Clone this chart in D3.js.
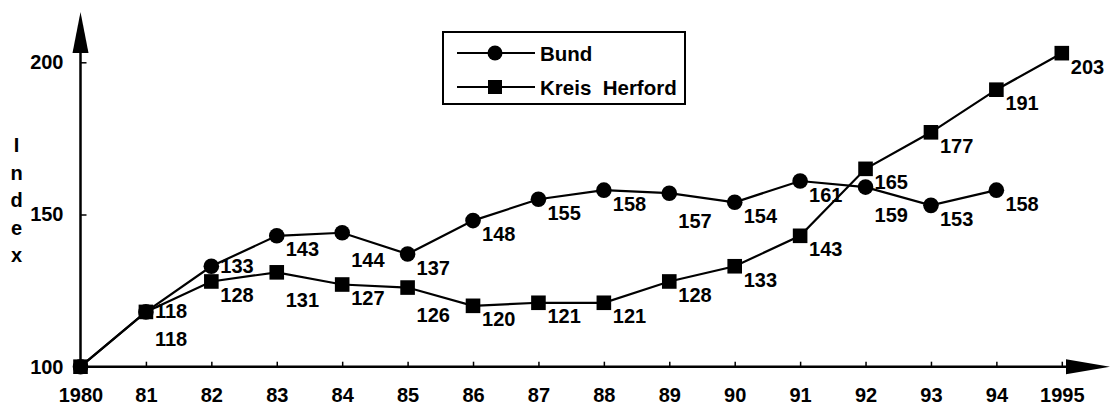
<!DOCTYPE html>
<html>
<head>
<meta charset="utf-8">
<script src="https://cdn.jsdelivr.net/npm/d3@7"></script>
<style>
  html, body { margin: 0; padding: 0; background: #fff; }
  svg text { font-family: 'Liberation Sans', Arial, sans-serif; font-weight: bold; font-size: 20px; fill: #000; }
</style>
</head>
<body>
<div id="chart"></div>
<script>
// Data
const years = [1980, 1981, 1982, 1983, 1984, 1985, 1986, 1987, 1988, 1989, 1990, 1991, 1992, 1993, 1994, 1995]
const bund = [100, 118, 133, 143, 144, 137, 148, 155, 158, 157, 154, 161, 159, 153, 158, null]
const herford = [100, 118, 128, 131, 127, 126, 120, 121, 121, 128, 133, 143, 165, 177, 191, 203]
const yTicks = [100, 150, 200]
// label row under the marker: 0 = just below, 1 = one line lower, -1 = beside
const bundLabelRow = [null, 1, -1, 0, 1, 0, 0, 0, 0, 1, 0, 0, 1, 0, 0, null]
const herfordLabelRow = [null, -1, 0, 1, 0, 1, 0, 0, 0, 0, 0, 0, 0, 0, 0, 0]

const width = 1110
const height = 405

const svg = d3.select('#chart').append('svg')
  .attr('width', width)
  .attr('height', height)

// Scales
const x = d3.scaleLinear().domain([1980, 1995]).range([80.5, 1061.8])
const y = d3.scaleLinear().domain([100, 200]).range([366.7, 62.3])

// X axis
const xAxis = d3.axisBottom(x)
  .tickValues(years)
  .tickSizeInner(-5)
  .tickSizeOuter(0)
  .tickPadding(21.5)
  .tickFormat(d => (d === 1980 || d === 1995) ? String(d) : String(d).slice(2))
const gx = svg.append('g')
  .attr('transform', `translate(0,${y(100)})`)
  .call(xAxis)
gx.select('.domain').remove()
gx.selectAll('.tick line').attr('stroke', '#000').attr('stroke-width', 1.5)
gx.attr('font-size', null).attr('font-family', null)

// Y axis
const yAxis = d3.axisLeft(y)
  .tickValues(yTicks)
  .tickSizeInner(-6)
  .tickSizeOuter(0)
  .tickPadding(17)
const gy = svg.append('g')
  .attr('transform', `translate(${x(1980)},0)`)
  .call(yAxis)
gy.select('.domain').remove()
gy.selectAll('.tick line').attr('stroke', '#000').attr('stroke-width', 1.5)
gy.attr('font-size', null).attr('font-family', null)

// Axis lines with arrows
svg.append('line')
  .attr('x1', x(1980)).attr('x2', 1068)
  .attr('y1', y(100)).attr('y2', y(100))
  .attr('stroke', '#000').attr('stroke-width', 2.5)
svg.append('path')
  .attr('d', `M1066,${y(100) - 7.5}L1110,${y(100)}L1066,${y(100) + 7.5}Z`)
  .attr('fill', '#000')
svg.append('line')
  .attr('x1', x(1980)).attr('x2', x(1980))
  .attr('y1', y(100)).attr('y2', 50)
  .attr('stroke', '#000').attr('stroke-width', 2.5)
svg.append('path')
  .attr('d', `M${x(1980) - 8},53L${x(1980)},12L${x(1980) + 8},53Z`)
  .attr('fill', '#000')

// Vertical axis title, one letter per line
svg.selectAll('text.ylab')
  .data(['I', 'n', 'd', 'e', 'x'])
  .enter().append('text')
  .attr('class', 'ylab')
  .attr('text-anchor', 'middle')
  .attr('x', 16.5)
  .attr('y', (d, i) => 152 + i * 27.5)
  .text(d => d)

// Series
const series = [
  { name: 'Bund', values: bund, rows: bundLabelRow, marker: 'circle' },
  { name: 'Kreis  Herford', values: herford, rows: herfordLabelRow, marker: 'square' }
]

const line = d3.line()
  .defined(d => d.v !== null)
  .x(d => x(d.year))
  .y(d => y(d.v))

series.forEach(s => {
  const pts = years.map((year, i) => ({ year, v: s.values[i], row: s.rows[i] }))
  svg.append('path')
    .datum(pts)
    .attr('d', line)
    .attr('fill', 'none')
    .attr('stroke', '#000')
    .attr('stroke-width', 2.2)
})

series.forEach(s => {
  const pts = years.map((year, i) => ({ year, v: s.values[i], row: s.rows[i] }))
    .filter(d => d.v !== null)
  const g = svg.append('g')
  if (s.marker === 'circle') {
    g.selectAll('circle').data(pts).enter().append('circle')
      .attr('cx', d => x(d.year)).attr('cy', d => y(d.v)).attr('r', 7.8)
      .attr('fill', '#000')
  } else {
    g.selectAll('rect').data(pts).enter().append('rect')
      .attr('x', d => x(d.year) - 7.3).attr('y', d => y(d.v) - 7.3)
      .attr('width', 14.6).attr('height', 14.6)
      .attr('fill', '#000')
  }
  // value labels
  g.selectAll('text').data(pts.filter(d => d.row !== null)).enter().append('text')
    .attr('x', d => x(d.year) + 9)
    .attr('y', d => y(d.v) + 20.5 + d.row * 14)
    .text(d => d.v)
})

// Legend
const legend = svg.append('g')
legend.append('rect')
  .attr('x', 443).attr('y', 32)
  .attr('width', 242).attr('height', 72)
  .attr('fill', '#fff').attr('stroke', '#000').attr('stroke-width', 2)
series.forEach((s, i) => {
  const ly = 53 + i * 34
  legend.append('line')
    .attr('x1', 457).attr('x2', 535).attr('y1', ly).attr('y2', ly)
    .attr('stroke', '#000').attr('stroke-width', 2)
  if (s.marker === 'circle') {
    legend.append('circle').attr('cx', 495).attr('cy', ly).attr('r', 7.5).attr('fill', '#000')
  } else {
    legend.append('rect').attr('x', 488).attr('y', ly - 7).attr('width', 14).attr('height', 14).attr('fill', '#000')
  }
  legend.append('text')
    .attr('x', 540).attr('y', ly + 7.5)
    .style('font-size', '20.5px')
    .style('white-space', 'pre')
    .text(s.name)
})
</script>
</body>
</html>
